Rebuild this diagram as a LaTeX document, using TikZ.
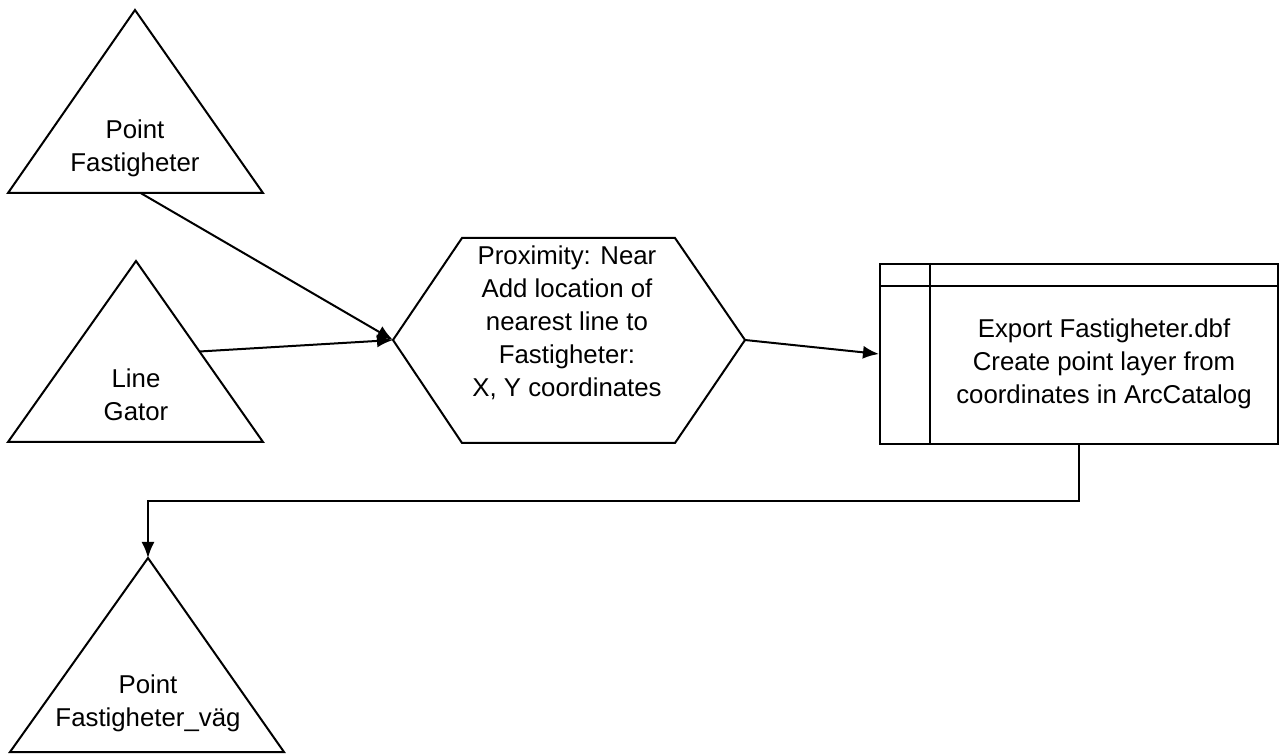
\documentclass[tikz,border=0pt]{standalone}
\usepackage{fontspec}
\setmainfont{Liberation Sans}
\usetikzlibrary{arrows.meta,calc}

\begin{document}
\begin{tikzpicture}[>={Latex[length=8pt,width=6.5pt]},x=0.5pt,y=-0.5pt,line width=1pt,
  font=\fontsize{12.9}{16.5}\selectfont]
  \useasboundingbox (0,0) rectangle (1282,754);
  % input layers
  \coordinate (pf-top) at (135,10);
  \coordinate (pf-left) at (8,193);
  \coordinate (pf-right) at (263,193);
  \draw (pf-left) -- (pf-top) -- (pf-right) -- cycle;
  \node[align=center] (pf) at (135,148) {Point\\Fastigheter};
  \coordinate (lg-top) at (136,261);
  \coordinate (lg-left) at (8,442);
  \coordinate (lg-right) at (263,442);
  \draw (lg-left) -- (lg-top) -- (lg-right) -- cycle;
  \node[align=center] (lg) at (136,395) {Line\\Gator};
  % proximity tool
  \coordinate (hex-w) at (393,340);
  \coordinate (hex-e) at (745,340);
  \draw (hex-w) -- (462,238) -- (675,238) -- (hex-e) -- (675,443) -- (462,443) -- cycle;
  \node[align=center] (near) at (567,323)
    {Proximity: Near\\Add location of\\nearest line to\\Fastigheter:\\X, Y coordinates};
  % export step
  \node[draw,inner sep=0pt,minimum width=199pt,minimum height=90pt] (dbf) at (1079,354) {};
  \draw ($(dbf.north west)+(0,23)$) -- ($(dbf.north east)+(0,23)$);
  \draw ($(dbf.north west)+(51,0)$) -- ($(dbf.south west)+(51,0)$);
  \node[align=center] (exp) at (1104,364)
    {Export Fastigheter.dbf\\Create point layer from\\coordinates in ArcCatalog};
  % output layer
  \coordinate (pfv-top) at (148,558);
  \coordinate (pfv-left) at (10,752);
  \coordinate (pfv-right) at (284,752);
  \draw (pfv-left) -- (pfv-top) -- (pfv-right) -- cycle;
  \node[align=center] (pfv) at (148,703) {Point\\Fastigheter\_väg};
  % connectors
  \draw[->] ($(pf-left)!0.52!(pf-right)$) -- (hex-w);
  \draw[->] ($(lg-top)!0.5!(lg-right)$) -- (hex-w);
  \draw[->] (hex-e) -- (dbf.west);
  \draw[->] (dbf.south) -- ++(0,56) -| (pfv-top);
\end{tikzpicture}
\end{document}
